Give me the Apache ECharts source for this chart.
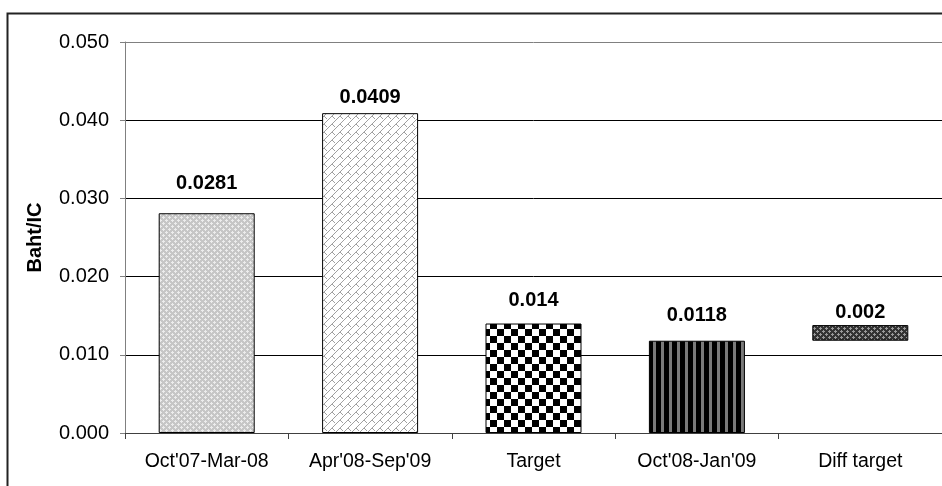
<!DOCTYPE html>
<html>
<head>
<meta charset="utf-8">
<script src="https://cdn.jsdelivr.net/npm/echarts@6/dist/echarts.min.js"></script>
<style>
  html, body { margin: 0; padding: 0; background: #fff; }
  #chart { width: 942px; height: 486px; }
</style>
</head>
<body>
<div id="chart"></div>
<script>
// data
const categories = ["Oct'07-Mar-08", "Apr'08-Sep'09", 'Target', "Oct'08-Jan'09", 'Diff target']
const barValues = [0.0281, 0.0409, 0.014, 0.0118, 0.002]
const barBase = [0, 0, 0, 0, 0.0118]   // diff target floats between 0.0118 and 0.014
const yTicks = { min: 0, max: 0.05, interval: 0.01 }

// label offsets above each bar (the excel labels sit at uneven heights)
const labelGaps = [20, 6, 13, 15, 3]

// small canvas tiles to mimic the Excel fill patterns
function tile(size, draw) {
  const c = document.createElement('canvas')
  c.width = size
  c.height = size
  const ctx = c.getContext('2d')
  draw(ctx, size)
  return { image: c, repeat: 'repeat' }
}

const patterns = [
  // light gray with lighter lattice
  tile(6, (ctx) => {
    ctx.fillStyle = '#c6c6c6'
    ctx.fillRect(0, 0, 6, 6)
    ctx.fillStyle = '#ececec'
    ctx.fillRect(1, 0, 1, 1); ctx.fillRect(0, 1, 3, 1); ctx.fillRect(1, 2, 1, 1)
    ctx.fillRect(4, 3, 1, 1); ctx.fillRect(3, 4, 3, 1); ctx.fillRect(4, 5, 1, 1)
  }),
  // white with gray diagonal bricks
  tile(8, (ctx) => {
    ctx.fillStyle = '#fff'
    ctx.fillRect(0, 0, 8, 8)
    ctx.fillStyle = '#a0a0a0'
    for (let i = 0; i < 8; i++) ctx.fillRect(i, 7 - i, 1, 1)
    ctx.fillRect(4, 4, 1, 1); ctx.fillRect(5, 5, 1, 1); ctx.fillRect(6, 6, 1, 1)
  }),
  // checkerboard
  tile(14, (ctx) => {
    ctx.fillStyle = '#fff'
    ctx.fillRect(0, 0, 14, 14)
    ctx.fillStyle = '#000'
    ctx.fillRect(0, 0, 7, 7)
    ctx.fillRect(7, 7, 7, 7)
  }),
  // vertical stripes
  tile(8, (ctx) => {
    ctx.fillStyle = '#000'
    ctx.fillRect(0, 0, 8, 8)
    ctx.fillStyle = '#7a7a7a'
    ctx.fillRect(5, 0, 3, 8)
  }),
  // dark checkered diamonds
  tile(6, (ctx) => {
    ctx.fillStyle = '#333'
    ctx.fillRect(0, 0, 6, 6)
    ctx.fillStyle = '#9a9a9a'
    ctx.fillRect(1, 0, 1, 1); ctx.fillRect(0, 1, 3, 1); ctx.fillRect(1, 2, 1, 1)
    ctx.fillRect(4, 3, 1, 1); ctx.fillRect(3, 4, 3, 1); ctx.fillRect(4, 5, 1, 1)
  })
]

const chart = echarts.init(document.getElementById('chart'))

const option = {
  animation: false,
  textStyle: { fontFamily: 'Liberation Sans, Arial, sans-serif' },
  graphic: [{
    type: 'rect',
    shape: { x: 7.5, y: 13.5, width: 980, height: 520 },
    style: { fill: null, stroke: '#222', lineWidth: 2 },
    silent: true
  }],
  grid: {
    left: 125,
    top: 42,
    width: 824,
    height: 391
  },
  xAxis: {
    type: 'category',
    data: categories,
    axisLine: { lineStyle: { color: '#404040', width: 1 } },
    axisTick: { show: true, interval: 0, length: 6, lineStyle: { color: '#404040' } },
    axisLabel: { color: '#000', fontSize: 19.5, margin: 19, interval: 0, hideOverlap: false }
  },
  yAxis: {
    type: 'value',
    min: yTicks.min,
    max: yTicks.max,
    interval: yTicks.interval,
    name: 'Baht/IC',
    nameLocation: 'middle',
    nameGap: 80,
    nameTextStyle: { color: '#000', fontSize: 20, fontWeight: 'bold' },
    axisLine: { show: true, lineStyle: { color: '#808080' } },
    axisTick: { show: true, length: 5, lineStyle: { color: '#808080' } },
    axisLabel: {
      color: '#000',
      fontSize: 20,
      margin: 16,
      formatter: (v) => v.toFixed(3)
    },
    splitLine: {
      show: true,
      lineStyle: { color: ['#000', '#000', '#000', '#000', '#000', '#808080'], width: 1 }
    }
  },
  series: [
    {
      type: 'bar',
      stack: 'total',
      barWidth: 96,
      silent: true,
      itemStyle: { color: 'transparent' },
      data: barBase
    },
    {
      type: 'bar',
      stack: 'total',
      barWidth: 96,
      data: barValues.map((v, i) => ({
        value: v,
        itemStyle: { color: patterns[i], borderColor: '#000', borderWidth: 1 },
        label: { distance: labelGaps[i] }
      })),
      label: {
        show: true,
        position: 'top',
        color: '#000',
        fontSize: 20,
        fontWeight: 'bold',
        formatter: (p) => String(p.value)
      }
    }
  ]
}

chart.setOption(option)

window.addEventListener('resize', () => {
  chart.resize()
})
</script>
</body>
</html>
